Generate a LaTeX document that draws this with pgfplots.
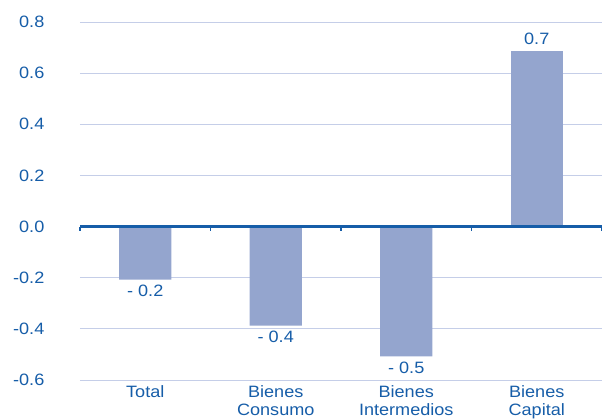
\documentclass[border=0pt]{standalone}
\usepackage{fontspec}
\setmainfont{Liberation Sans}[FakeStretch=1.1]
\usepackage{pgfplots}
\pgfplotsset{compat=1.18}
\definecolor{txtc}{RGB}{22,93,168}
\definecolor{barc}{RGB}{148,165,206}
\definecolor{gridc}{RGB}{197,206,232}
\begin{document}
\fontsize{16.5}{17.5}\selectfont
\begin{tikzpicture}
\begin{axis}[
  scale only axis, width=522bp, height=358bp,
  xmin=-0.5, xmax=3.5, ymin=-0.6, ymax=0.8,
  ytick={-0.6,-0.4,-0.2,0.2,0.4,0.6,0.8},
  extra y ticks={0},
  extra y tick style={ymajorgrids=false},
  xtick={0,1,2,3},
  xticklabels={Total, Bienes\\Consumo, Bienes\\Intermedios, Bienes\\Capital},
  xticklabel style={align=center, text=txtc, font=\fontsize{16.5}{17.5}\selectfont},
  yticklabel style={text=txtc, xshift=-30bp, /pgf/number format/.cd, fixed, fixed zerofill, precision=1, assume math mode=true},
  axis line style={draw=none},
  major tick length=0pt,
  ymajorgrids, grid style={gridc, line width=0.9pt},
  clip=false,
]
\addplot[ybar, bar width=0.4, bar shift=0pt, fill=barc, draw=none,
  nodes near coords, point meta=explicit symbolic,
  nodes near coords style={anchor=north, text=txtc}]
  coordinates {(0,-0.207)[- 0.2] (1,-0.387)[- 0.4] (2,-0.508)[- 0.5]};
\addplot[ybar, bar width=0.4, bar shift=0pt, fill=barc, draw=none,
  nodes near coords, point meta=explicit symbolic,
  nodes near coords style={anchor=south, text=txtc}]
  coordinates {(3,0.688)[0.7]};
\draw[draw=txtc, line width=2.6pt] (axis cs:-0.5,0) -- (axis cs:3.5,0);
\pgfplotsinvokeforeach{-0.5,0.5,1.5,2.5,3.5}{
  \draw[draw=txtc, line width=1.5pt] (axis cs:#1,0) -- (axis cs:#1,-0.017);
}
\end{axis}
\pgfresetboundingbox
\path (current axis.south west) ++(-80bp,-40bp) rectangle ++(602bp,420bp);
\end{tikzpicture}
\end{document}
